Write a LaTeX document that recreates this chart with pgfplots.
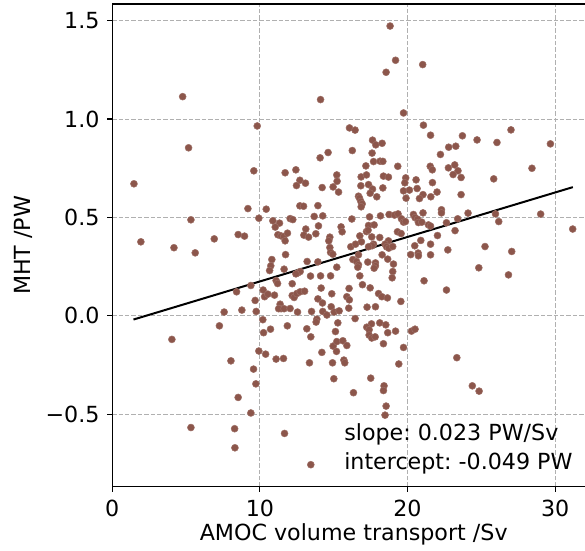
\documentclass[border=0pt]{standalone}
\usepackage{fontspec}
\setmainfont{DejaVu Sans}
\usepackage{pgfplots}
\pgfplotsset{compat=1.18}
\definecolor{tabbrown}{HTML}{8C564B}
\definecolor{gridgray}{HTML}{B0B0B0}
\pgfplotstableread{
x y
4.77 1.114
5.17 0.854
14.11 1.099
9.82 0.965
16.07 0.955
14.62 0.830
14.08 0.803
16.26 0.840
18.82 1.473
19.19 1.299
18.55 1.238
21.03 1.277
19.73 1.031
16.45 0.944
21.08 0.969
21.56 0.918
23.72 0.915
17.63 0.893
17.85 0.869
18.28 0.877
17.60 0.827
22.79 0.857
23.27 0.862
22.23 0.820
17.70 0.784
18.14 0.786
18.33 0.785
17.18 0.762
21.54 0.760
23.20 0.767
19.34 0.760
24.71 0.894
26.06 0.881
27.01 0.945
29.68 0.874
1.47 0.671
5.33 0.488
1.94 0.376
4.18 0.346
5.62 0.320
6.91 0.391
7.58 0.019
7.26 -0.051
9.59 0.737
11.71 0.727
12.44 0.742
12.71 0.689
13.09 0.674
12.48 0.662
15.21 0.716
15.23 0.684
14.96 0.655
15.33 0.629
14.22 0.652
9.19 0.545
10.43 0.542
12.71 0.559
12.96 0.557
13.93 0.560
9.93 0.496
12.05 0.494
12.23 0.489
13.68 0.505
14.26 0.508
16.23 0.492
10.88 0.483
11.33 0.471
11.04 0.451
13.97 0.457
15.50 0.452
15.57 0.427
13.11 0.441
8.53 0.413
8.96 0.405
11.22 0.412
11.44 0.406
11.62 0.403
11.87 0.420
11.71 0.381
12.98 0.410
13.30 0.400
13.79 0.417
14.74 0.400
14.67 0.381
14.74 0.347
14.79 0.322
14.94 0.313
16.16 0.351
11.74 0.311
10.81 0.286
13.20 0.276
13.93 0.274
15.21 0.247
10.74 0.254
10.66 0.230
11.64 0.237
12.57 0.218
12.73 0.225
12.44 0.213
11.10 0.179
11.20 0.164
12.19 0.163
13.43 0.202
14.11 0.203
14.79 0.203
8.42 0.122
9.39 0.154
10.22 0.131
10.32 0.097
10.54 0.110
10.99 0.105
12.19 0.103
12.32 0.093
12.50 0.113
12.73 0.122
13.03 0.125
14.15 0.141
16.04 0.139
15.89 0.097
16.06 0.081
13.93 0.086
14.87 0.112
9.68 0.078
11.37 0.059
11.44 0.036
11.27 0.036
11.64 0.036
12.05 0.037
12.55 0.019
13.50 0.022
14.24 0.065
14.26 0.022
14.54 0.004
14.83 0.046
15.03 0.019
15.37 0.025
16.02 0.039
8.78 0.029
9.75 0.022
10.20 -0.020
13.86 -0.017
13.81 -0.032
15.28 -0.036
11.86 -0.051
21.68 0.742
22.77 0.752
23.42 0.737
23.09 0.718
23.63 0.703
16.86 0.706
17.22 0.716
18.37 0.710
18.71 0.705
19.88 0.701
19.82 0.676
20.58 0.691
21.69 0.677
16.84 0.661
17.36 0.667
18.33 0.650
17.63 0.644
17.47 0.623
19.73 0.635
20.13 0.639
20.65 0.647
22.00 0.629
21.05 0.616
16.68 0.608
16.75 0.598
16.84 0.581
16.93 0.569
16.86 0.554
17.92 0.605
19.90 0.598
20.81 0.596
21.58 0.605
23.63 0.616
22.30 0.539
22.30 0.523
24.10 0.522
17.43 0.503
18.17 0.508
18.75 0.515
19.12 0.512
19.36 0.518
19.59 0.493
19.73 0.476
19.86 0.479
20.40 0.515
20.51 0.499
20.68 0.491
20.74 0.474
20.97 0.476
21.05 0.523
21.42 0.462
21.56 0.456
22.64 0.473
23.40 0.493
17.36 0.459
17.74 0.462
17.22 0.428
17.33 0.435
19.32 0.427
19.57 0.418
16.77 0.406
17.58 0.401
18.12 0.398
18.71 0.381
22.03 0.408
23.22 0.433
20.90 0.383
21.56 0.364
20.49 0.356
16.48 0.364
16.88 0.376
17.70 0.364
17.60 0.356
17.36 0.351
18.48 0.364
18.58 0.351
18.73 0.344
19.00 0.352
22.73 0.335
16.68 0.310
18.28 0.310
20.22 0.311
20.72 0.319
20.74 0.305
21.56 0.310
16.30 0.286
16.55 0.276
16.68 0.259
16.63 0.247
17.31 0.273
17.83 0.269
17.83 0.254
17.74 0.242
18.66 0.288
19.05 0.263
19.00 0.225
18.96 0.193
16.77 0.203
16.95 0.158
17.47 0.142
21.12 0.178
22.64 0.131
18.04 0.113
18.26 0.097
18.64 0.091
19.55 0.073
17.26 0.044
17.83 0.046
16.45 -0.014
17.56 -0.041
18.12 -0.036
18.53 -0.046
28.43 0.750
25.84 0.696
25.96 0.518
26.18 0.479
29.02 0.517
31.19 0.441
25.25 0.352
27.06 0.327
24.83 0.244
26.84 0.208
4.04 -0.120
8.04 -0.229
5.33 -0.568
10.25 -0.086
10.72 -0.068
13.18 -0.066
13.45 -0.107
15.12 -0.080
14.96 -0.154
15.21 -0.131
15.62 -0.127
15.89 -0.151
15.19 -0.181
9.93 -0.179
10.39 -0.195
11.10 -0.220
11.60 -0.217
13.36 -0.239
14.20 -0.186
14.92 -0.239
15.69 -0.225
15.75 -0.239
9.57 -0.271
9.73 -0.346
8.53 -0.415
15.01 -0.320
9.39 -0.494
8.29 -0.574
8.31 -0.671
11.67 -0.598
13.45 -0.757
17.24 -0.058
17.40 -0.071
18.66 -0.086
19.19 -0.078
17.40 -0.098
17.58 -0.113
17.81 -0.107
18.37 -0.142
19.73 -0.161
20.27 -0.078
20.51 -0.068
19.41 -0.245
17.51 -0.317
18.41 -0.356
18.37 -0.380
16.34 -0.391
18.55 -0.459
18.48 -0.505
23.34 -0.213
24.39 -0.356
24.85 -0.383
}\scatterdata
\pgfplotstableread{
x y
1.44 -0.019
31.20 0.654
}\fitline
\begin{document}
\frenchspacing
\fontsize{11.1}{13.3}\selectfont
\begin{tikzpicture}
\path[use as bounding box, clip] (-56.15pt,-32pt) rectangle (236.5pt,243.5pt);
\begin{axis}[
  at={(0pt,0pt)}, anchor=south west,
  scale only axis, width=236.85pt, height=241.5pt,
  xmin=0, xmax=32.07, ymin=-0.869, ymax=1.585,
  xtick={0,10,20,30}, xticklabels={0,10,20,30},
  ytick={-0.5,0,0.5,1,1.5}, yticklabels={−0.5,0.0,0.5,1.0,1.5},
  tick align=outside, xtick pos=bottom, ytick pos=left,
  major tick length=2.5pt,
  every tick/.style={black, line width=0.6pt},
  grid=major,
  grid style={gridgray, line width=0.5pt, dash pattern=on 2.2pt off 1pt},
  axis line style={line width=0.7pt},
  tick label style={font=\fontsize{11.1}{13.3}\selectfont},
  label style={font=\fontsize{11.1}{13.3}\selectfont},
  xlabel={AMOC volume transport /Sv},
  ylabel={MHT /PW},
  xlabel style={at={(axis description cs:0.510,-0.0994)}, anchor=center},
  ylabel style={at={(axis description cs:-0.1885,0.5)}, anchor=center},
]
\addplot[only marks, mark=*, mark size=1.75pt, color=tabbrown,
  mark options={fill=tabbrown, draw=tabbrown!85!white, line width=0.25pt}] table[x=x,y=y] {\scatterdata};
\addplot[black, line width=1pt, no marks] table[x=x,y=y] {\fitline};
\node[anchor=base west, inner sep=0pt] at (axis cs:15.69,-0.635) {slope: 0.023 PW/Sv};
\node[anchor=base west, inner sep=0pt] at (axis cs:15.69,-0.779) {intercept: -0.049 PW};
\end{axis}
\end{tikzpicture}
\end{document}
